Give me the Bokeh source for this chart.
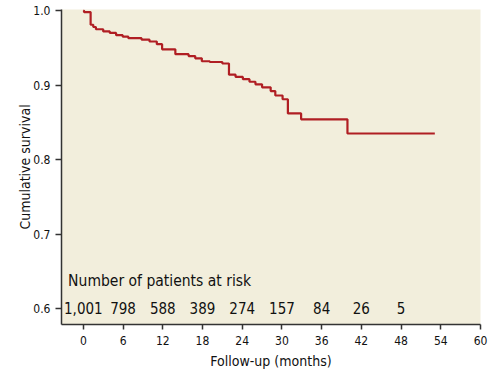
from bokeh.plotting import figure
from bokeh.models import FixedTicker, PrintfTickFormatter, Range1d, ColumnDataSource
from bokeh.core.properties import value
from bokeh.embed import file_html
from bokeh.resources import INLINE

# Kaplan-Meier step data (months, cumulative survival)
times = [0, 0.1, 1.1, 1.5, 1.9, 3.0, 4.0, 4.95, 5.95, 6.8, 8.8, 10.0, 11.1, 11.9,
         13.9, 15.9, 16.9, 17.9, 19.1, 21.0, 22.0, 23.0, 24.1, 25.1, 26.0, 27.0,
         28.3, 29.0, 30.1, 30.9, 32.9, 39.9, 53.1]
survival = [1.0, 0.998, 0.981, 0.978, 0.975, 0.972, 0.970, 0.967, 0.965, 0.963,
            0.961, 0.9585, 0.955, 0.948, 0.9415, 0.939, 0.936, 0.932, 0.931, 0.929,
            0.914, 0.911, 0.908, 0.9045, 0.901, 0.897, 0.892, 0.886, 0.881, 0.862,
            0.854, 0.835, 0.835]

# Number at risk
risk_times = [0, 6, 12, 18, 24, 30, 36, 42, 48]
risk_counts = ["1,001", "798", "588", "389", "274", "157", "84", "26", "5"]

x_ticks = [0, 6, 12, 18, 24, 30, 36, 42, 48, 54, 60]
y_ticks = [0.6, 0.7, 0.8, 0.9, 1.0]

FONT = "DejaVu Sans Condensed, Roboto Condensed, Liberation Sans Narrow, Roboto, sans-serif"

p = figure(width=502, height=372, output_backend="svg", toolbar_location=None,
           x_range=Range1d(-3.3, 60), y_range=Range1d(0.5785, 1.0015),
           min_border_left=61, min_border_right=22, min_border_top=9,
           min_border_bottom=48)

p.background_fill_color = "#F2EEDC"
p.border_fill_color = "white"
p.outline_line_color = None
p.grid.visible = False

p.step(times, survival, mode="after", line_color="#B01E23", line_width=2.2)

p.text(x=[-2.3], y=[0.6365], text=["Number of patients at risk"],
       text_font=value(FONT), text_font_size="15.5px", text_align="left",
       text_baseline="middle", text_color="#111111")
src = ColumnDataSource(dict(x=risk_times, y=[0.6] * len(risk_times), t=risk_counts))
p.text(x="x", y="y", text="t", source=src,
       text_font=value(FONT), text_font_size="15px", text_align="center",
       text_baseline="middle", text_color="#111111")

for ax in (p.xaxis[0], p.yaxis[0]):
    ax.axis_line_color = "#333333"
    ax.axis_line_width = 1.5
    ax.major_tick_line_color = "#333333"
    ax.major_tick_line_width = 1.5
    ax.minor_tick_line_color = None
    ax.major_tick_in = 0
    ax.major_label_text_font = FONT
    ax.major_label_text_font_size = "12px"
    ax.major_label_text_color = "#111111"
    ax.axis_label_text_font = FONT
    ax.axis_label_text_font_size = "14px"
    ax.axis_label_text_font_style = "normal"
    ax.axis_label_text_color = "#111111"

p.xaxis.ticker = FixedTicker(ticks=x_ticks)
p.xaxis.major_tick_out = 5
p.xaxis.major_label_standoff = 6
p.xaxis.axis_label = "Follow-up (months)"
p.xaxis.axis_label_standoff = 5

p.yaxis.ticker = FixedTicker(ticks=y_ticks)
p.yaxis.formatter = PrintfTickFormatter(format="%.1f")
p.yaxis.major_tick_out = 6
p.yaxis.major_label_standoff = 5
p.yaxis.axis_label = "Cumulative survival"
p.yaxis.axis_label_standoff = -3

open("out.html", "w").write(file_html(p, INLINE))
